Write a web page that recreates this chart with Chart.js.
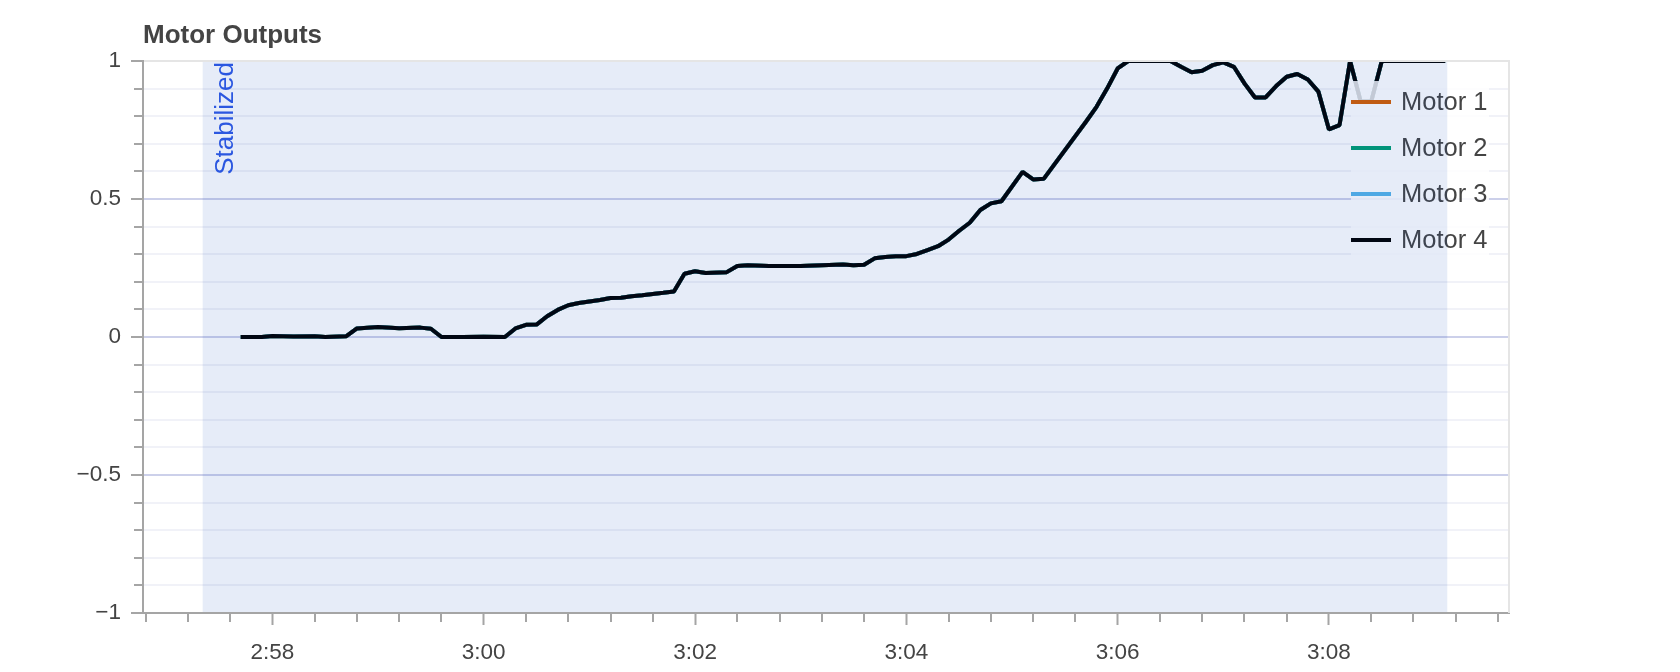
<!DOCTYPE html>
<html>
<head>
<meta charset="utf-8">
<title>Motor Outputs</title>
<script src="https://cdn.jsdelivr.net/npm/chart.js@4.4.1/dist/chart.umd.min.js"></script>
<style>
  html, body { margin: 0; padding: 0; background: #fff; }
  canvas { display: block; }
</style>
</head>
<body>
<canvas id="motor-chart" width="1680" height="672" style="width:1680px;height:672px"></canvas>
<script>
// sample time (m:ss read as seconds) and output of the motors
const stampSec = [177.7, 177.9, 178.0, 178.2, 178.4, 178.5, 178.7, 178.8, 179.0, 179.2,
  179.4, 179.5, 179.6, 179.8, 180.0, 180.2, 180.3, 180.4, 180.5, 180.6,
  180.7, 180.8, 180.9, 181.1, 181.2, 181.3, 181.4, 181.5, 181.7, 181.8,
  181.9, 182.0, 182.1, 182.3, 182.4, 182.5, 182.7, 183.0, 183.2, 183.4,
  183.5, 183.6, 183.7, 183.8, 183.9, 184.0, 184.1, 184.2, 184.3, 184.4,
  184.5, 184.6, 184.7, 184.8, 184.9, 185.1, 185.2, 185.3, 185.7, 185.8,
  185.9, 186.0, 186.1, 186.5, 186.6, 186.7, 186.8, 186.9, 187.0, 187.1,
  187.2, 187.3, 187.4, 187.5, 187.6, 187.7, 187.8, 187.9, 188.0, 188.1,
  188.2, 188.3, 188.4, 188.5, 189.1];
const motorOut = [0, 0, 0.004, 0.002, 0.003, 0, 0.003, 0.031, 0.036, 0.032,
  0.034, 0.030, 0, 0, 0.001, 0, 0.031, 0.044, 0.045, 0.075,
  0.098, 0.115, 0.123, 0.134, 0.141, 0.142, 0.148, 0.151, 0.160, 0.165,
  0.229, 0.238, 0.232, 0.235, 0.257, 0.260, 0.257, 0.257, 0.260, 0.263,
  0.260, 0.262, 0.285, 0.290, 0.293, 0.293, 0.301, 0.315, 0.329, 0.353,
  0.385, 0.414, 0.460, 0.484, 0.492, 0.598, 0.571, 0.573, 0.780, 0.834,
  0.900, 0.973, 1.0, 1.0, 0.979, 0.959, 0.965, 0.985, 0.995, 0.979,
  0.919, 0.868, 0.868, 0.909, 0.943, 0.953, 0.933, 0.889, 0.752, 0.768,
  1.0, 0.853, 0.853, 1.0, 1.0];

// the four motors lie on top of each other, motor 4 is the one you see
const motorNames = ["Motor 1", "Motor 2", "Motor 3", "Motor 4"];
const motorSeries = [motorOut, motorOut, motorOut, motorOut];
const motorColors = ["#D55E00", "#009E73", "#56B4E9", "#000000"];

// flight mode band
const modeNames = ["Stabilized"];
const modeStart = [177.34];
const modeEnd = [189.12];

// tick labels
const xTickSec = [178, 180, 182, 184, 186, 188];
const xTickText = ["2:58", "3:00", "3:02", "3:04", "3:06", "3:08"];
const yTickVal = [-1, -0.5, 0, 0.5, 1];
const yTickText = ["\u22121", "\u22120.5", "0", "0.5", "1"];

const FONT = '"Liberation Sans", Arial, Helvetica, sans-serif';
const AXIS_GRAY = "#a5a5a5";

function isMajorY(v) {
  return yTickVal.some((t) => Math.abs(t - v) < 1e-9);
}

// legend, band + label, frame, title and minor ticks
const decorPlugin = {
  id: "decor",
  afterDatasetsDraw(chart) {
    // legend, drawn before the band so the band tints it
    const ctx = chart.ctx;
    const area = chart.chartArea;
    const boxW = 138, itemH = 46;
    const left = area.right - 20 - boxW;
    const top = area.top + 20;
    ctx.save();
    ctx.fillStyle = "rgba(255,255,255,0.85)";
    ctx.fillRect(left, top, boxW, itemH * motorNames.length - 6);
    ctx.font = "25.5px " + FONT;
    ctx.textBaseline = "middle";
    ctx.textAlign = "left";
    chart.data.datasets.forEach((ds, i) => {
      const cy = top + 21 + i * itemH;
      ctx.strokeStyle = ds.borderColor;
      ctx.lineWidth = 4;
      ctx.beginPath();
      ctx.moveTo(left, cy);
      ctx.lineTo(left + 40, cy);
      ctx.stroke();
      ctx.fillStyle = "#444444";
      ctx.fillText(ds.label, left + 50, cy + 1);
    });
    ctx.restore();
  },
  afterDraw(chart) {
    const ctx = chart.ctx;
    const area = chart.chartArea;
    const xs = chart.scales.x;
    const ys = chart.scales.y;
    ctx.save();

    // mode band
    modeNames.forEach((name, i) => {
      const x0 = xs.getPixelForValue(modeStart[i]);
      const x1 = xs.getPixelForValue(modeEnd[i]);
      ctx.fillStyle = "rgba(5,65,185,0.1)";
      ctx.fillRect(x0, area.top, x1 - x0, area.bottom - area.top - 1);
      ctx.save();
      ctx.translate(x0 + 10, area.top + 1);
      ctx.rotate(-Math.PI / 2);
      ctx.font = "26px " + FONT;
      ctx.fillStyle = "#2b57e0";
      ctx.textAlign = "right";
      ctx.textBaseline = "top";
      ctx.fillText(name, 0, 0);
      ctx.restore();
    });

    // outline on top and right
    ctx.strokeStyle = "#e5e5e5";
    ctx.lineWidth = 2;
    ctx.beginPath();
    ctx.moveTo(area.left + 1, Math.round(area.top));
    ctx.lineTo(Math.round(area.right), Math.round(area.top));
    ctx.lineTo(Math.round(area.right), area.bottom);
    ctx.stroke();

    // minor ticks
    ctx.strokeStyle = AXIS_GRAY;
    ctx.lineWidth = 2;
    ctx.beginPath();
    const step = 0.4;
    for (let i = Math.ceil(xs.min / step); i <= Math.floor(xs.max / step); i++) {
      if (i % 5 === 0) continue;
      const px = Math.round(xs.getPixelForValue(i * step));
      ctx.moveTo(px, area.bottom);
      ctx.lineTo(px, area.bottom + 9);
    }
    for (let i = -10; i <= 10; i++) {
      if (i % 5 === 0) continue;
      const py = Math.round(ys.getPixelForValue(i / 10));
      ctx.moveTo(area.left, py);
      ctx.lineTo(area.left - 9, py);
    }
    ctx.stroke();

    // title
    ctx.font = "bold 26px " + FONT;
    ctx.fillStyle = "#444444";
    ctx.textAlign = "left";
    ctx.textBaseline = "alphabetic";
    ctx.fillText("Motor Outputs", area.left, 43);
    ctx.restore();
  },
};

function buildDatasets() {
  return motorNames.map((name, i) => ({
    label: name,
    data: stampSec.map((t, k) => ({ x: t, y: motorSeries[i][k] })),
    borderColor: motorColors[i],
    backgroundColor: motorColors[i],
    borderWidth: 4,
    borderJoinStyle: "bevel",
    pointRadius: 0,
    tension: 0,
    fill: false,
    order: motorNames.length - 1 - i,
  }));
}

function initMotorChart() {
  const ctx = document.getElementById("motor-chart").getContext("2d");
  return new Chart(ctx, {
    type: "line",
    data: { datasets: buildDatasets() },
    options: {
      responsive: false,
      animation: false,
      devicePixelRatio: 1,
      layout: { padding: { top: 61, right: 171, left: 0, bottom: 0 } },
      plugins: {
        legend: { display: false },
        title: { display: false },
        tooltip: { enabled: false },
      },
      scales: {
        x: {
          type: "linear",
          min: 176.775,
          max: 189.704,
          afterBuildTicks: (scale) => {
            scale.ticks = xTickSec.map((v) => ({ value: v }));
          },
          afterFit: (scale) => {
            scale.height = 59;
          },
          border: { color: AXIS_GRAY, width: 2 },
          grid: {
            drawOnChartArea: false,
            tickLength: 12,
            tickWidth: 2,
            tickColor: AXIS_GRAY,
          },
          ticks: {
            autoSkip: false,
            maxRotation: 0,
            padding: 14,
            color: "#444444",
            font: { family: FONT, size: 22.5 },
            callback: (value, i) => xTickText[i],
          },
        },
        y: {
          type: "linear",
          min: -1,
          max: 1,
          afterBuildTicks: (scale) => {
            const t = [];
            for (let i = -10; i <= 10; i++) t.push({ value: i / 10 });
            scale.ticks = t;
          },
          afterFit: (scale) => {
            scale.width = 143;
          },
          border: { color: AXIS_GRAY, width: 2 },
          grid: {
            lineWidth: 2,
            color: (c) => (c.tick && isMajorY(c.tick.value) ? "#ccd0ea" : "#f1f2f8"),
            tickLength: 12,
            tickWidth: 2,
            tickColor: (c) => (c.tick && isMajorY(c.tick.value) ? AXIS_GRAY : "rgba(0,0,0,0)"),
          },
          ticks: {
            autoSkip: false,
            padding: 10,
            color: "#444444",
            font: { family: FONT, size: 22.5 },
            callback: (value) => {
              const k = yTickVal.findIndex((t) => Math.abs(t - value) < 1e-9);
              return k >= 0 ? yTickText[k] : "";
            },
          },
        },
      },
    },
    plugins: [decorPlugin],
  });
}

document.addEventListener("DOMContentLoaded", () => {
  initMotorChart();
});
</script>
</body>
</html>
